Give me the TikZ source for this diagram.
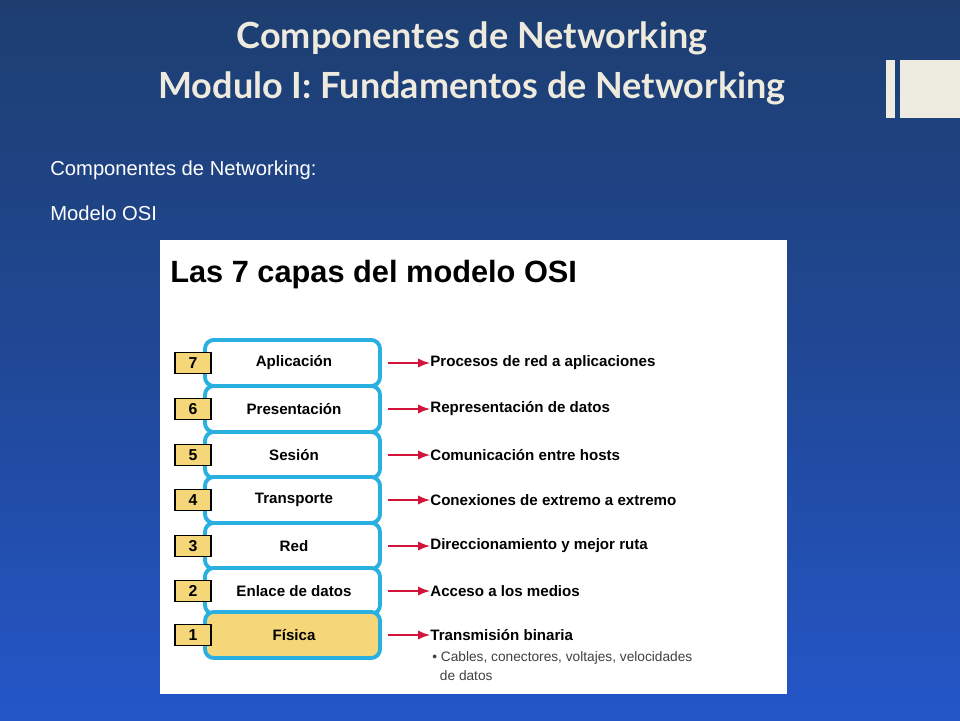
\documentclass[tikz,border=0pt]{standalone}
\usepackage{fontspec}
\setmainfont{Liberation Sans}
\newfontfamily\titlefont{Lato}
\definecolor{bgtop}{RGB}{30,62,112}
\definecolor{bgmid}{RGB}{32,72,150}
\definecolor{bgbot}{RGB}{36,86,200}
\definecolor{cream}{RGB}{238,235,224}
\definecolor{titlec}{RGB}{238,235,222}
\definecolor{cyanb}{RGB}{41,176,224}
\definecolor{yel}{RGB}{245,215,122}
\definecolor{redarr}{RGB}{210,20,58}
\begin{document}
\begin{tikzpicture}[x=0.02cm,y=-0.02cm,
  layer/.style={draw=cyanb, line width=2.2pt, rounded corners=5pt, fill=white},
  numbox/.style={draw=black, line width=0.6pt, fill=yel, minimum width=0.72cm, minimum height=0.42cm, inner sep=0pt, font=\bfseries\fontsize{9}{10}\selectfont},
  ltext/.style={font=\bfseries\fontsize{8.6}{10}\selectfont},
  desc/.style={anchor=west, font=\bfseries\fontsize{8.6}{10}\selectfont, inner sep=0pt},
  arr/.style={-latex, draw=redarr, line width=1.3pt}]
\useasboundingbox (0,0) rectangle (960,720);
\shade[top color=bgtop, bottom color=bgbot, middle color=bgmid] (0,0) rectangle (960,720);
\fill[cream] (886,60) rectangle (895,118);
\fill[cream] (900,60) rectangle (960,118);
\node[text=titlec, font=\titlefont\bfseries\fontsize{20.5}{24}\selectfont] (t1) at (472,38) {Componentes de Networking};
\node[text=titlec, font=\titlefont\bfseries\fontsize{20.5}{24}\selectfont] (t2) at (472,88) {Modulo I: Fundamentos de Networking};
\node[anchor=west, text=white, inner sep=0pt, font=\fontsize{11.5}{13}\selectfont] (s1) at (50,170) {Componentes de Networking:};
\node[anchor=west, text=white, inner sep=0pt, font=\fontsize{11.5}{13}\selectfont] (s2) at (50,213) {Modelo OSI};
\fill[white] (160,240) rectangle (787,694);
\node[anchor=west, inner sep=0pt, font=\bfseries\fontsize{17.5}{20}\selectfont] (head) at (170,275) {Las 7 capas del modelo OSI};
\foreach \y/\n/\name/\d [count=\i] in {363/7/Aplicación/Procesos de red a aplicaciones,409/6/Presentación/Representación de datos,455/5/Sesión/Comunicación entre hosts,500/4/Transporte/Conexiones de extremo a extremo,546/3/Red/Direccionamiento y mejor ruta,591/2/Enlace de datos/Acceso a los medios,635/1/Física/Transmisión binaria}{
  \ifnum\i=7
    \draw[layer, fill=yel] (205,\y-23) rectangle (380,\y+23);
  \else
    \draw[layer] (205,\y-23) rectangle (380,\y+23);
  \fi
  \node[ltext] (l\n) at (294,\y) {\name};
  \node[numbox] (n\n) at (193,\y) {\n};
  \coordinate (a\n) at (388,\y);
  \node[desc] (d\n) at (430,\y) {\d};
  \draw[arr] (a\n) -- (d\n.west);
}
\node[anchor=west, inner sep=0pt, text=black!75, align=left, font=\fontsize{7.8}{11}\selectfont] (b) at (432,666) {\textbullet\ Cables, conectores, voltajes, velocidades\\\ \ de datos};
\end{tikzpicture}
\end{document}
